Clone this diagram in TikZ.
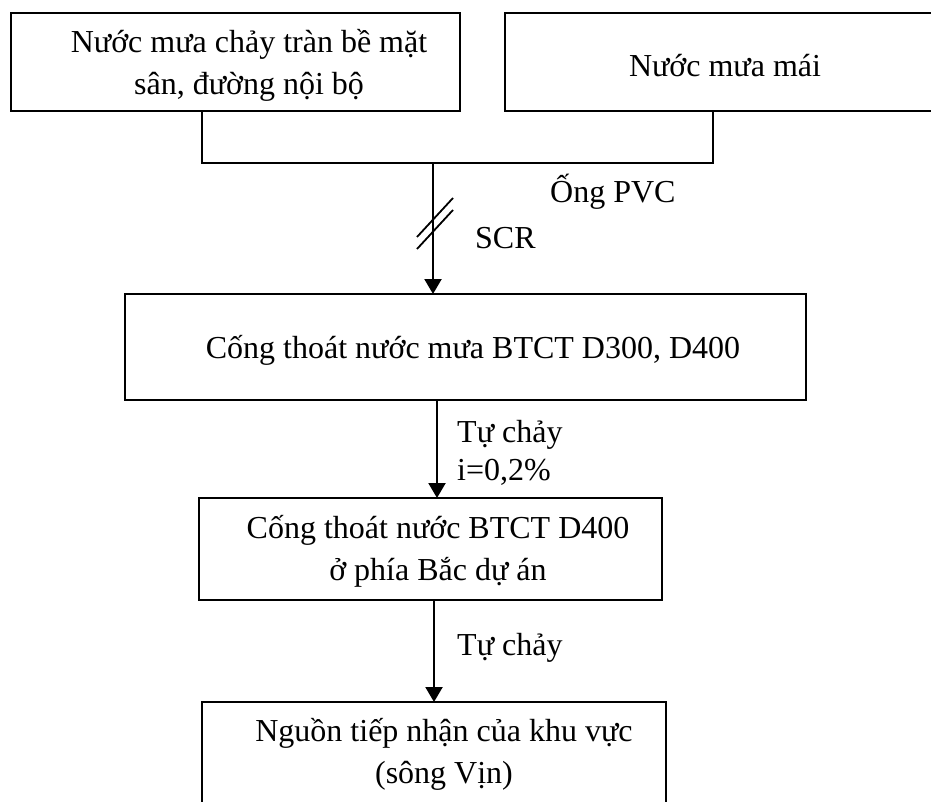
\documentclass[tikz,border=0pt]{standalone}
\usepackage{fontspec}
\setmainfont{Liberation Serif}
\usetikzlibrary{arrows.meta}
\begin{document}
\begin{tikzpicture}[x=1pt,y=-1pt,
  box/.style={draw, line width=2.6pt, rectangle, inner sep=0pt, outer sep=0pt},
  txt/.style={inner sep=0pt, anchor=base, align=center,
    font=\fontsize{32}{42}\selectfont},
  lbl/.style={inner sep=0pt, anchor=base west,
    font=\fontsize{32}{42}\selectfont},
  wire/.style={line width=2.2pt},
  arr/.style={line width=2.2pt, -{Triangle[width=17pt,length=15pt]}}]
\useasboundingbox (0,0) rectangle (931,802);
\clip (0,0) rectangle (931,802);

% boxes
\node[box, minimum width=449pt, minimum height=98pt] (b1) at (235.5,62) {};
\node[box, minimum width=460pt, minimum height=98pt] (b2) at (735,62) {};
\node[box, minimum width=681pt, minimum height=106pt] (b3) at (465.5,347) {};
\node[box, minimum width=463pt, minimum height=102pt] (b4) at (430.5,549) {};
\node[box, minimum width=464pt, minimum height=130pt] (b5) at (434,767) {};

% box texts (a two-line node sits on the baseline of its last line)
\node[txt] (t1) at (249,95) {Nước mưa chảy tràn bề mặt\\ sân, đường nội bộ};
\node[txt] (t2) at (725,77) {Nước mưa mái};
\node[txt] (t3) at (473,358) {Cống thoát nước mưa BTCT D300, D400};
\node[txt] (t4) at (438,580) {Cống thoát nước BTCT D400\\ ở phía Bắc dự án};
\node[txt] (t5) at (444,783) {Nguồn tiếp nhận của khu vực\\ (sông Vịn)};

% collecting line from both sources
\coordinate (jl) at (202,163);
\coordinate (jr) at (713,163);
\coordinate (jm) at (433,163);
\draw[wire] (b1.south -| jl) -- (jl) -- (jr) -- (b2.south -| jr);
\draw[arr] (jm) -- (b3.north -| jm);

% double slash on the pipe
\draw[wire, line width=1.8pt] (417,237) -- (453,198);
\draw[wire, line width=1.8pt] (417,249) -- (453,210);

\node[lbl] (l1) at (550,203) {Ống PVC};
\node[lbl] (l2) at (475,249) {SCR};

% gravity flow down to the receiving source
\coordinate (a2) at (437,450);
\draw[arr] (b3.south -| a2) -- (b4.north -| a2);
\node[lbl] (l3) at (457,442) {Tự chảy};
\node[lbl] (l4) at (457,480) {i=0,2\%};

\coordinate (a3) at (434,650);
\draw[arr] (b4.south -| a3) -- (b5.north -| a3);
\node[lbl] (l5) at (457,655) {Tự chảy};
\end{tikzpicture}
\end{document}
